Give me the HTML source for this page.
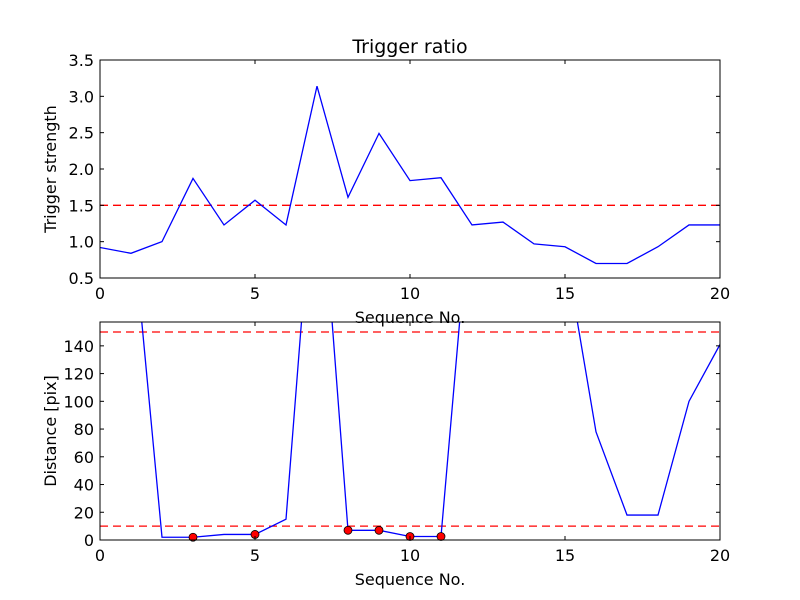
<!DOCTYPE html>
<html><head><meta charset="utf-8"><style>body{margin:0;background:#fff}svg{display:block;font-family:"DejaVu Sans","Liberation Sans",sans-serif}</style></head>
<body>
<svg id="c" width="800" height="600"></svg>
<script>
const xs=[0,1,2,3,4,5,6,7,8,9,10,11,12,13,14,15,16,17,18,19,20];
const strength=[0.92,0.84,1.0,1.87,1.23,1.57,1.23,3.14,1.61,2.49,1.84,1.88,1.23,1.27,0.97,0.93,0.70,0.70,0.93,1.23,1.23];
const distance=[300,240,2,2,4,4,15,300,7,7,2.5,2.5,260,300,300,210,78,18,18,100,141];
const markerIdx=[3,5,8,9,10,11];
const strengthThreshold=[1.5];
const distThresholds=[150,10];
const xTicks=[0,5,10,15,20];
const yTicksTop=[0.5,1.0,1.5,2.0,2.5,3.0,3.5];
const yTicksBot=[0,20,40,60,80,100,120,140];
const NS="http://www.w3.org/2000/svg";
const svg=document.getElementById('c');
function el(t,a,p){const e=document.createElementNS(NS,t);for(const k in a)e.setAttribute(k,a[k]);(p||svg).appendChild(e);return e;}
function panel(name,top,bot,ymin,ymax,yt,fmt,ylabel,vals,thr,markers){
  const L=100,R=720;
  const X=v=>L+(v-0)/(20-0)*(R-L);
  const Y=v=>bot-(v-ymin)/(ymax-ymin)*(bot-top);
  const g=el('g',{});
  
  
  const defs=el('defs',{},g);
  const cp=el('clipPath',{id:name+'-clip'},defs);
  el('rect',{x:L,y:top,width:R-L,height:bot-top},cp);
  const pg=el('g',{'clip-path':'url(#'+name+'-clip)'},g);
  thr.forEach(t=>{const l=el('line',{x1:L,x2:R,y1:Y(t),y2:Y(t),stroke:'#ff0000','stroke-width':1.3,'stroke-dasharray':'8,5'},pg);
    });
  const line=el('polyline',{points:xs.map((x,i)=>X(x)+','+Y(vals[i])).join(' '),fill:'none',stroke:'#0000ff','stroke-width':1.3},pg);
  
  markers.forEach(i=>{const c=el('circle',{cx:X(xs[i]),cy:Y(vals[i]),r:4,fill:'#ff0000',stroke:'#000','stroke-width':0.8},g);
    });
  const fr=el('rect',{x:L,y:top,width:R-L,height:bot-top,fill:'none',stroke:'#000','stroke-width':1},g);
  
  xTicks.forEach(t=>{const x=X(t);el('line',{x1:x,x2:x,y1:bot,y2:bot-4,stroke:'#000'},g);el('line',{x1:x,x2:x,y1:top,y2:top+4,stroke:'#000'},g);
    const tx=el('text',{x:x,y:bot+21,'text-anchor':'middle','font-size':16},g);tx.textContent=t;
    });
  yt.forEach(t=>{const y=Y(t);el('line',{x1:L,x2:L+4,y1:y,y2:y,stroke:'#000'},g);el('line',{x1:R,x2:R-4,y1:y,y2:y,stroke:'#000'},g);
    const tx=el('text',{x:L-6,y:y+6,'text-anchor':'end','font-size':16},g);tx.textContent=fmt(t);
    });
  const xl=el('text',{x:410,y:bot+45,'text-anchor':'middle','font-size':16},g);xl.textContent='Sequence No.';
  
  const yl=el('text',{x:0,y:0,'text-anchor':'middle','font-size':16,transform:'translate(56,'+((top+bot)/2)+') rotate(-90)'},g);yl.textContent=ylabel;
  
}
panel('strength-panel',60,278,0.5,3.5,yTicksTop,v=>v.toFixed(1),'Trigger strength',strength,strengthThreshold,[]);
panel('distance-panel',322,540,0,157.2,yTicksBot,v=>String(v),'Distance [pix]',distance,distThresholds,markerIdx);
const ti=el('text',{x:410,y:53,'text-anchor':'middle','font-size':19});ti.textContent='Trigger ratio';

</script>
</body></html>
